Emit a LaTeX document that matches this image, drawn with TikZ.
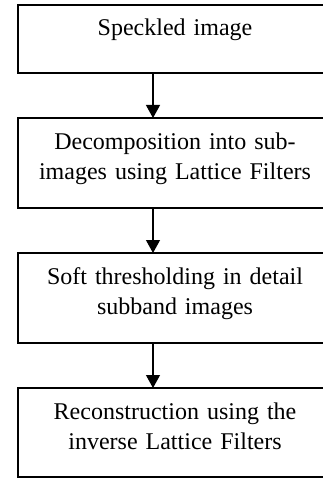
\documentclass[tikz,border=0pt]{standalone}
\usepackage{fontspec}
\setmainfont{Liberation Serif}
\usetikzlibrary{positioning,arrows.meta}

\begin{document}
\begin{tikzpicture}
[stage/.style={draw, rectangle, line width=0.75pt, text width=151pt,
    inner xsep=3pt, inner ysep=0pt, outer sep=0pt, align=center,
    font=\fontsize{12}{15}\selectfont, text height=15.5pt, text depth=29.5pt},
 flow/.style={-{Triangle[width=7pt,length=6.5pt]}, line width=0.6pt}]
\useasboundingbox (0,0) rectangle (161pt,-240.5pt);
\node[stage, anchor=north, text depth=18.5pt](speckled) at (87.5pt,-2.5pt){Speckled image};
\node[stage, below = 22.5pt of speckled](decomp){Decomposition into sub-\\images using Lattice Filters};
\node[stage, below = 22.5pt of decomp](thresh){Soft thresholding in detail\\subband images};
\node[stage, below = 22.5pt of thresh, text depth=29pt](recon){Reconstruction using the\\inverse Lattice Filters};
\draw[flow] ([xshift=-11pt]speckled.south) -- ([xshift=-11pt]decomp.north);
\draw[flow] ([xshift=-11pt]decomp.south) -- ([xshift=-11pt]thresh.north);
\draw[flow] ([xshift=-11pt]thresh.south) -- ([xshift=-11pt]recon.north);
\end{tikzpicture}
\end{document}
